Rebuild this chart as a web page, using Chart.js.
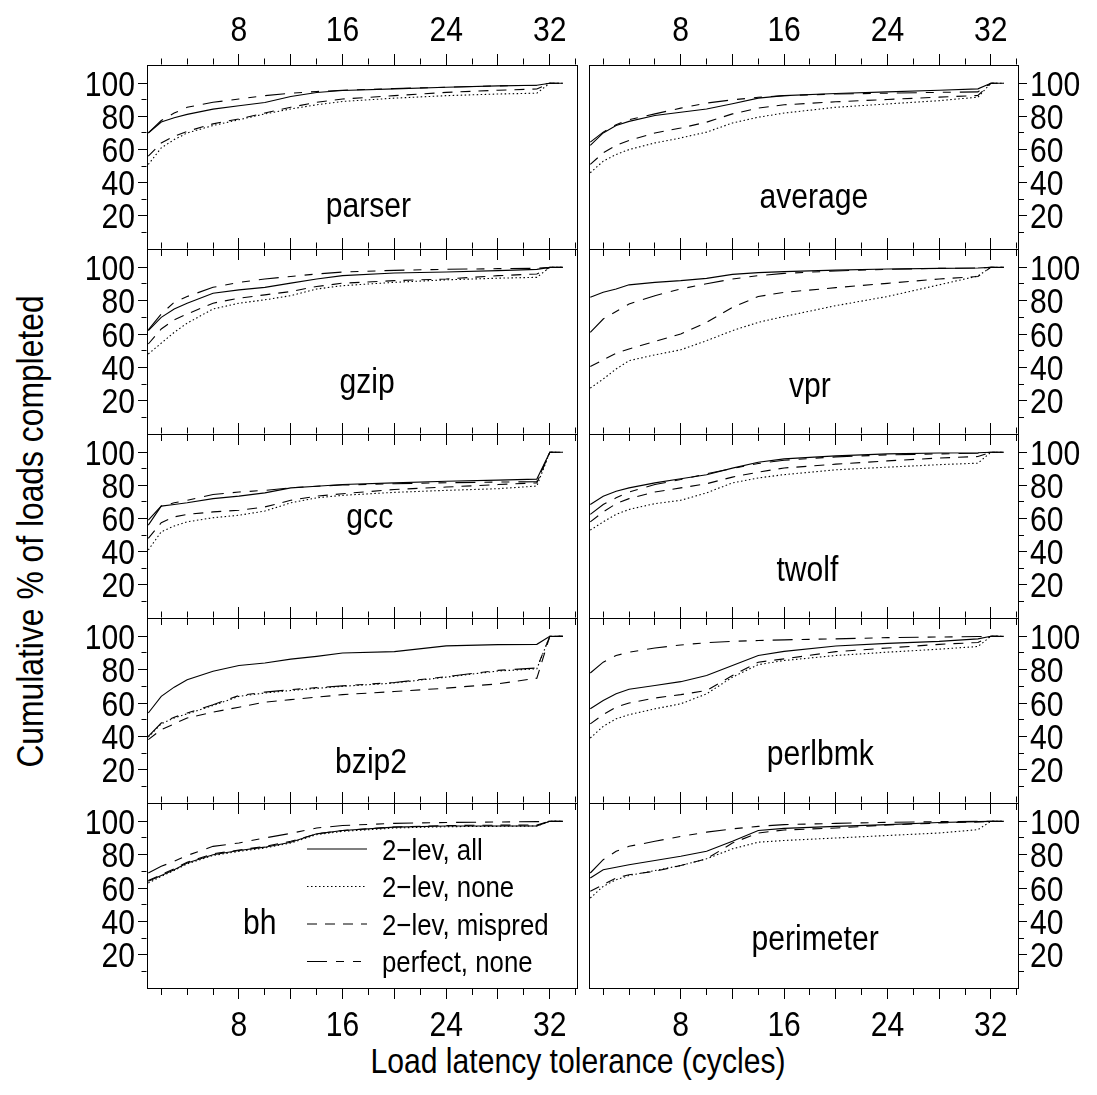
<!DOCTYPE html>
<html>
<head>
<meta charset="utf-8">
<script src="https://cdn.jsdelivr.net/npm/chart.js@4.4.0/dist/chart.umd.min.js"></script>
<style>
  body { margin: 0; background: #fff; width: 1097px; height: 1095px; position: relative; overflow: hidden; }
  canvas { position: absolute; }
  #xtitle { position: absolute; left: 228px; width: 700px; top: 1043px; text-align: center;
            font: 35px 'Liberation Sans', Arial, sans-serif; line-height: 35px; color: #000;
            transform: scaleX(0.86); }
  #ytitle { position: absolute; left: -320px; top: 513px; width: 700px; text-align: center;
            font: 37px 'Liberation Sans', Arial, sans-serif; line-height: 37px; color: #000;
            transform: rotate(-90deg) scaleX(0.86); }
</style>
</head>
<body>
<div id="ytitle">Cumulative % of loads completed</div>
<div id="xtitle">Load latency tolerance (cycles)</div>
<script>
// latency tolerance (cycles) where each curve was read
const latency = [1, 2, 3, 4, 6, 8, 10, 12, 14, 16, 20, 24, 28, 31, 32, 33];

const xTickValues = [2, 4, 6, 8, 10, 12, 14, 16, 18, 20, 22, 24, 26, 28, 30, 32, 34];
const xLongTicks = [8, 12, 16, 20, 24, 28, 32];
const xTickLabels = [8, 16, 24, 32];
const yTickValues = [10, 20, 30, 40, 50, 60, 70, 80, 90, 100];
const yTickLabels = [20, 40, 60, 80, 100];

const seriesNames = ['2\u2212lev, all', '2\u2212lev, none', '2\u2212lev, mispred', 'perfect, none'];

// cumulative % of loads completed
const parserAll     = [70, 76.6, 79.2, 81.2, 84.4, 86.4, 88.4, 92, 94.4, 95.6, 96.6, 97.6, 98.4, 98.8, 100, 100];
const parserNone    = [51, 61, 66, 70, 74.5, 78, 81.5, 84.5, 87, 89, 91, 92.5, 93.5, 94, 100, 100];
const parserMispred = [56, 64, 68, 71, 75.5, 78.5, 82, 85.5, 88.5, 90.5, 92.5, 94.5, 95.8, 96.5, 100, 100];
const parserPerfect = [70, 77.5, 82, 85.5, 88.5, 90.5, 92.5, 94, 95, 95.8, 96.8, 97.6, 98.4, 98.8, 100, 100];

const averageAll     = [62.5, 70, 74.5, 77, 80.5, 82.5, 84.5, 87.6, 91, 92.5, 93.8, 94.8, 95.8, 96.6, 100, 100];
const averageNone    = [46, 53, 57, 60, 64, 67, 70.5, 76, 79.5, 82, 85.5, 87.5, 89.5, 91.6, 100, 100];
const averageMispred = [51, 58, 62.5, 65.5, 70, 73, 76.5, 81.5, 85, 87, 88.8, 90.2, 91.6, 92.6, 100, 100];
const averagePerfect = [64.5, 70.5, 75, 78, 81.5, 85, 88, 90, 91.5, 92.5, 93.5, 94, 94.5, 94.8, 100, 100];

const gzipAll     = [62, 70, 75, 78.5, 84.5, 86.5, 88, 90.5, 93, 95, 96.6, 97.2, 98, 98.8, 100, 100];
const gzipNone    = [48, 54.5, 61, 66.5, 75, 78.5, 80.5, 83, 87, 89, 91, 92.5, 93.5, 94, 100, 100];
const gzipMispred = [54, 63, 68.5, 72, 78.5, 81.5, 83.5, 85.5, 88.5, 90.5, 92, 93, 95, 96, 100, 100];
const gzipPerfect = [62.5, 72, 79, 82.5, 88, 91, 93, 94.5, 96, 97.2, 98.2, 98.8, 99.2, 99.4, 100, 100];

const vprAll     = [82, 85, 87, 89.5, 91, 92, 93.4, 95.8, 96.8, 97.4, 98.3, 99, 99.4, 99.6, 100, 100];
const vprNone    = [27.5, 33, 39, 44, 47.5, 50.5, 56, 62, 67, 70.5, 77, 82.5, 89.5, 94.8, 100, 100];
const vprMispred = [40.5, 44.5, 48.5, 51, 55.5, 60, 67, 76, 82.5, 85, 87.8, 90.4, 93, 94.5, 100, 100];
const vprPerfect = [61, 69, 73.5, 78, 83, 87, 90.2, 93, 95, 96.4, 97.8, 98.8, 99.4, 99.6, 100, 100];

const gccAll     = [56, 67.5, 68.5, 69.5, 72, 73.5, 75.5, 78.5, 79.5, 80.5, 81.5, 82.5, 83.2, 83.8, 100, 100];
const gccNone    = [41, 52, 55.5, 58, 60.5, 62, 64.5, 69.5, 72.5, 74, 75.8, 77, 78, 79.6, 100, 100];
const gccMispred = [48, 57.5, 61, 62.5, 64, 65, 67, 71, 73.5, 75, 77.5, 79, 80.5, 81.5, 100, 100];
const gccPerfect = [59, 67.5, 69.5, 71, 74.5, 76, 77, 78.5, 79.5, 80.2, 81, 81.6, 82, 82.2, 100, 100];

const twolfAll     = [68.5, 73.5, 76.5, 78.5, 81.5, 84, 86.4, 90.4, 94, 96, 97.8, 99, 99.5, 99.7, 100, 100];
const twolfNone    = [53, 58, 62.5, 65.5, 69, 71, 75.5, 81.5, 84.5, 86.5, 89.4, 91, 92.5, 93.4, 100, 100];
const twolfMispred = [58, 64, 69, 72, 76, 78.5, 81, 85, 88, 90.5, 92.8, 94.8, 96.5, 97.4, 100, 100];
const twolfPerfect = [62.5, 68.5, 72.5, 76, 80.5, 83.5, 87, 90.2, 93.2, 95.2, 97.2, 98.4, 99, 99.4, 100, 100];

const bzip2All     = [54, 64, 69.5, 74, 79, 82.5, 84, 86.3, 88, 90, 90.8, 94.3, 95, 95.2, 100, 100];
const bzip2None    = [39.5, 47.5, 51, 53.5, 58.5, 64, 66, 67.5, 68.8, 70, 72, 75.5, 79.2, 80.5, 100, 100];
const bzip2Mispred = [38, 44, 47.5, 51, 54.5, 57.5, 60.5, 62, 63.5, 65, 66.9, 68.9, 71.5, 74.9, 100, 100];
const bzip2Perfect = [40, 48, 51.5, 54, 59, 64.5, 66.5, 68, 69.2, 70.3, 72.3, 75.8, 79.6, 81, 100, 100];

const perlbmkAll     = [56.5, 61.5, 65.5, 68.3, 70.5, 72.8, 76.5, 82.5, 88.5, 91, 94.2, 95.8, 97, 98.5, 100, 100];
const perlbmkNone    = [39, 46, 50.5, 53, 56.5, 59.5, 65.5, 75.5, 83, 85.5, 88.5, 90.5, 92.3, 93.9, 100, 100];
const perlbmkMispred = [47.5, 53, 57.5, 60, 63, 65, 67.5, 76.5, 84.5, 86.5, 90.8, 93, 95.2, 96.3, 100, 100];
const perlbmkPerfect = [78, 84.5, 88.5, 90.5, 93, 94.8, 96.2, 97, 97.5, 97.9, 98.5, 99.2, 99.6, 99.9, 100, 100];

const bhAll     = [64, 67.5, 71, 75, 80, 82.5, 84.5, 87.5, 92.5, 94.5, 96.5, 97.2, 97.2, 97.3, 100, 100];
const bhNone    = [63, 67, 70.5, 74.5, 79.5, 82, 84, 87, 92, 94, 96, 96.8, 97, 97.2, 100, 100];
const bhMispred = [64.5, 68, 71.5, 75.5, 80.5, 82.8, 85, 88, 92.5, 94.5, 96.6, 97.5, 97.7, 97.8, 100, 100];
const bhPerfect = [69, 73, 76, 79.5, 85, 87, 90, 92.8, 96, 97.5, 98.8, 99.3, 99.6, 99.8, 100, 100];

const perimeterAll     = [66, 71, 72.5, 74, 76.5, 79, 82, 88, 94.5, 95.8, 97, 98, 99.3, 99.8, 100, 100];
const perimeterNone    = [54, 61, 65, 67.5, 70.5, 73.5, 77.5, 83.5, 87.5, 88.5, 90, 91.5, 93, 95, 100, 100];
const perimeterMispred = [58, 62, 66, 68, 70, 73.5, 77.5, 87, 93, 94.8, 96, 97.8, 99, 99.6, 100, 100];
const perimeterPerfect = [69, 77, 82, 85, 88, 91, 93.5, 95.5, 97, 98, 98.8, 99.4, 99.8, 100, 100, 100];

// line styles for the four series
const dashes = [[], [1.5, 2.5], [10, 8], [20, 9, 8, 9, 8, 9]];

const panels = [
  { name: 'parser',    row: 0, col: 0, series: [parserAll, parserNone, parserMispred, parserPerfect], lx: 18, ly: 19.6 },
  { name: 'average',   row: 0, col: 1, series: [averageAll, averageNone, averageMispred, averagePerfect], lx: 18.3, ly: 24.7 },
  { name: 'gzip',      row: 1, col: 0, series: [gzipAll, gzipNone, gzipMispred, gzipPerfect], lx: 17.9, ly: 24.4 },
  { name: 'vpr',       row: 1, col: 1, series: [vprAll, vprNone, vprMispred, vprPerfect], lx: 18, ly: 22.4 },
  { name: 'gcc',       row: 2, col: 0, series: [gccAll, gccNone, gccMispred, gccPerfect], lx: 18.1, ly: 54.2 },
  { name: 'twolf',     row: 2, col: 1, series: [twolfAll, twolfNone, twolfMispred, twolfPerfect], lx: 17.8, ly: 22.1 },
  { name: 'bzip2',     row: 3, col: 0, series: [bzip2All, bzip2None, bzip2Mispred, bzip2Perfect], lx: 18.2, ly: 17.9 },
  { name: 'perlbmk',   row: 3, col: 1, series: [perlbmkAll, perlbmkNone, perlbmkMispred, perlbmkPerfect], lx: 18.8, ly: 22.9 },
  { name: 'bh',        row: 4, col: 0, series: [bhAll, bhNone, bhMispred, bhPerfect], lx: 9.6, ly: 32.7, legend: true },
  { name: 'perimeter', row: 4, col: 1, series: [perimeterAll, perimeterNone, perimeterMispred, perimeterPerfect], lx: 18.4, ly: 23 }
];

const rowTops = [65, 249, 434, 618, 803, 988];
const colLeft = [147, 589];
const colWidth = [430, 429];
const FONT = "'Liberation Sans', Arial, Helvetica, sans-serif";
const SQUEEZE = 0.86;   // the original lettering is a tall, condensed Helvetica

// text drawn condensed horizontally around its anchor point
function narrowText(ctx, text, x, y, size, align) {
  ctx.save();
  ctx.translate(x, y);
  ctx.scale(SQUEEZE, 1);
  ctx.font = size + 'px ' + FONT;
  ctx.textAlign = align;
  ctx.textBaseline = 'alphabetic';
  ctx.fillStyle = '#000';
  ctx.fillText(text, 0, 0);
  ctx.restore();
}

const labelPlugin = {
  id: 'panelLabel',
  afterDraw(chart) {
    const p = chart.options.plugins.panelLabel;
    const ctx = chart.ctx;
    const area = chart.chartArea;
    const xs = chart.scales.x, ys = chart.scales.y;

    // tick labels, placed from the scales
    const half = 0.716 * 35 / 2;
    if (p.row === 0) {
      xTickLabels.forEach(v => narrowText(ctx, String(v), chart.scales.xTop.getPixelForValue(v), area.top - 24.5, 35, 'center'));
    }
    if (p.row === 4) {
      xTickLabels.forEach(v => narrowText(ctx, String(v), xs.getPixelForValue(v), area.bottom + 47.5, 35, 'center'));
    }
    yTickLabels.forEach(v => {
      const y = ys.getPixelForValue(v) + half;
      if (p.col === 0) narrowText(ctx, String(v), area.left - 12, y, 35, 'right');
      else narrowText(ctx, String(v), area.right + 12, y, 35, 'left');
    });

    narrowText(ctx, p.name, xs.getPixelForValue(p.lx), ys.getPixelForValue(p.ly), 35, 'center');

    if (p.legend) {
      ctx.save();
      ctx.lineWidth = 1.1;
      ctx.strokeStyle = '#000';
      seriesNames.forEach((name, i) => {
        const y = area.top + 46 + i * 37.5;
        ctx.setLineDash(dashes[i]);
        ctx.beginPath();
        ctx.moveTo(area.left + 160, y);
        ctx.lineTo(area.left + 220, y);
        ctx.stroke();
        ctx.setLineDash([]);
        narrowText(ctx, name, area.left + 235, y + 10.7, 30, 'left');
      });
      ctx.restore();
    }
  }
};

function makePanel(p) {
  const left = p.col === 0;
  const top = rowTops[p.row];
  const h = rowTops[p.row + 1] - top;
  const w = colWidth[p.col];
  const mT = p.row === 0 ? 65 : 14;
  const mB = p.row === 4 ? 60 : 14;
  const mOut = left ? 147 : 79;
  const mIn = 6;

  const canvas = document.createElement('canvas');
  canvas.width = w + mOut + mIn;
  canvas.height = h + mT + mB;
  canvas.style.left = (left ? colLeft[0] - mOut : colLeft[1] - mIn) + 'px';
  canvas.style.top = (top - mT) + 'px';
  document.body.appendChild(canvas);

  const xIsLong = (ctx) => xLongTicks.includes(ctx.tick.value);
  const yIsLong = (ctx) => yTickLabels.includes(ctx.tick.value);

  const xAxis = (position) => ({
    type: 'linear',
    axis: 'x',
    position: position,
    min: 0.9,
    max: 34.1,
    afterBuildTicks: (s) => { s.ticks = xTickValues.map(v => ({ value: v })); },
    afterFit: (s) => { s.height = position === 'top' ? mT : mB; },
    ticks: { display: false, autoSkip: false },
    grid: {
      drawOnChartArea: false,
      drawTicks: true,
      tickLength: 11,
      tickColor: '#000',
      tickWidth: 1,
      tickBorderDash: (ctx) => xIsLong(ctx) ? [] : (position === 'top' ? [0, 4.5, 6, 50] : [6, 50])
    },
    border: { display: true, color: '#000', width: 1 }
  });

  const datasets = p.series.map((vals, i) => ({
    label: seriesNames[i],
    data: latency.map((x, j) => ({ x: x, y: vals[j] })),
    borderColor: '#000',
    borderWidth: 1.1,
    borderDash: dashes[i],
    pointRadius: 0,
    fill: false,
    tension: 0,
    xAxisID: 'x',
    yAxisID: 'y'
  }));

  new Chart(canvas.getContext('2d'), {
    type: 'line',
    data: { datasets: datasets },
    options: {
      responsive: false,
      devicePixelRatio: 1,
      animation: false,
      layout: { padding: 0 },
      plugins: {
        legend: { display: false },
        tooltip: { enabled: false },
        panelLabel: { name: p.name, lx: p.lx, ly: p.ly, legend: !!p.legend, row: p.row, col: p.col }
      },
      scales: {
        x: xAxis('bottom'),
        xTop: xAxis('top'),
        y: {
          type: 'linear',
          position: left ? 'left' : 'right',
          min: 0,
          max: 111,
          afterBuildTicks: (s) => { s.ticks = yTickValues.map(v => ({ value: v })); },
          afterFit: (s) => { s.width = mOut; },
          ticks: { display: false, autoSkip: false },
          grid: {
            drawOnChartArea: false,
            drawTicks: true,
            tickLength: 9,
            tickColor: '#000',
            tickWidth: 1,
            tickBorderDash: (ctx) => yIsLong(ctx) ? [] : (left ? [0, 3.5, 5, 50] : [5, 50])
          },
          border: { display: true, color: '#000', width: 1 }
        },
        yIn: {
          type: 'linear',
          axis: 'y',
          position: left ? 'right' : 'left',
          min: 0,
          max: 111,
          afterFit: (s) => { s.width = mIn; },
          ticks: { display: false },
          grid: { drawOnChartArea: false, drawTicks: false },
          border: { display: true, color: '#000', width: 1 }
        }
      }
    },
    plugins: [labelPlugin]
  });
}

panels.forEach(makePanel);
</script>
</body>
</html>
